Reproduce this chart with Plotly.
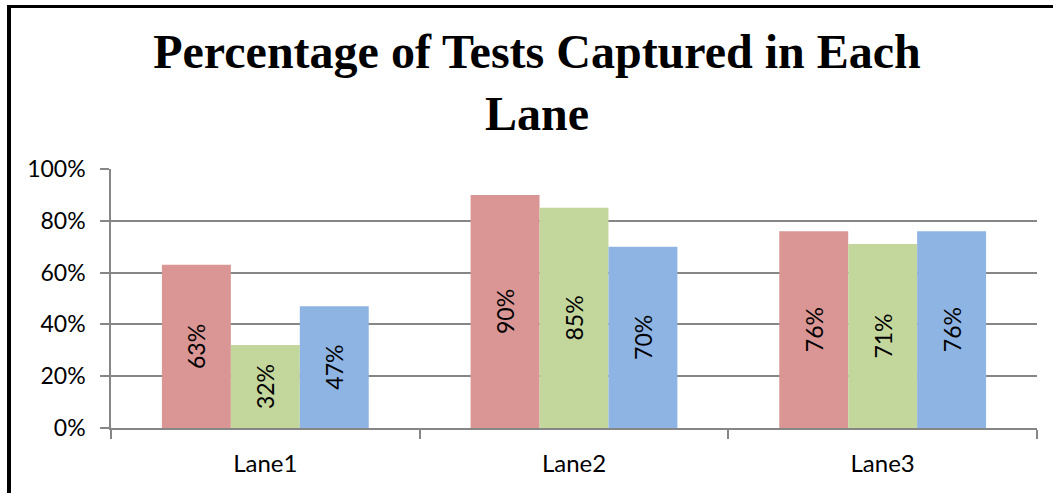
import plotly.graph_objects as go

categories = ["Lane1", "Lane2", "Lane3"]
series_a = [0.63, 0.90, 0.76]
series_b = [0.32, 0.85, 0.71]
series_c = [0.47, 0.70, 0.76]
colors = ["#D99694", "#C3D69B", "#8EB4E3"]
ytick_vals = [0, 0.2, 0.4, 0.6, 0.8, 1.0]
ytick_text = ["0%", "20%", "40%", "60%", "80%", "100%"]

label_font = dict(family="Lato", size=23, color="#000000")
axis_font = dict(family="Lato", size=24, color="#000000")

fig = go.Figure()
for vals, col in zip([series_a, series_b, series_c], colors):
    fig.add_trace(go.Bar(
        x=categories, y=vals,
        marker=dict(color=col, line=dict(width=0)),
        text=[f"{round(v*100)}%" for v in vals],
        textposition="inside", insidetextanchor="middle",
        textangle=-90, textfont=label_font,
        showlegend=False, hoverinfo="skip",
    ))

fig.update_layout(
    width=1053, height=493,
    paper_bgcolor="white", plot_bgcolor="white",
    margin=dict(l=111, r=16, t=169, b=65),
    barmode="group", bargap=0.33, bargroupgap=0,
    title=dict(
        text="Percentage of Tests Captured in Each<br>Lane",
        font=dict(family="Liberation Serif", size=48, color="#000000", weight="bold"),
        xref="container", x=0.51, xanchor="center",
        yref="container", y=0.863, yanchor="middle",
    ),
    uniformtext=dict(minsize=23, mode="show"),
)
fig.update_xaxes(
    showline=True, linecolor="#868686", linewidth=1.5,
    ticks="outside", tickson="boundaries", ticklen=9, tickcolor="#868686", tickwidth=1.5,
    tickfont=axis_font, showgrid=False, ticklabelstandoff=13,
)
fig.update_yaxes(
    range=[0, 1], tickvals=ytick_vals, ticktext=ytick_text,
    showline=True, linecolor="#868686", linewidth=1.5,
    ticks="outside", ticklen=9, tickcolor="#868686", tickwidth=1.5,
    showgrid=True, gridcolor="#868686", gridwidth=1.5,
    tickfont=label_font, zeroline=False, ticklabelstandoff=10,
)

# page setup plus the chart frame (only its left and top edges are in view)
post = (
    "document.body.style.margin='0px';"
    "document.body.style.overflow='hidden';"
    "document.documentElement.style.overflow='hidden';"
    "var f=document.createElement('div');"
    "f.style.cssText='position:absolute;left:7px;top:5px;width:3000px;height:3000px;"
    "border-left:4px solid #000;border-top:3px solid #000;pointer-events:none;';"
    "document.body.appendChild(f);"
)

fig.write_html("out.html", config={"displayModeBar": False}, post_script=post)
